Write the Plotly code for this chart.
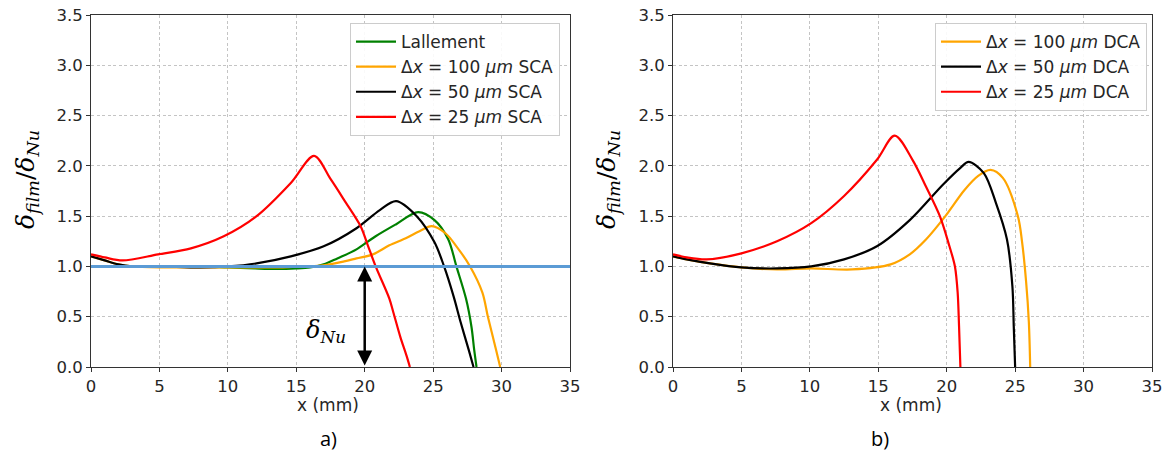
import plotly.graph_objects as go

# ---------------- data (panel a: SCA) ----------------
lallement_x = [0, 2, 4, 6, 8, 10, 12, 13.5, 15, 16, 17, 18, 19.4, 20.8, 22.3, 23.9, 25.1, 26.1, 26.7, 27.4, 27.8, 28.0, 28.17]
lallement_y = [1.00, 1.00, 1.00, 1.00, 1.00, 0.99, 0.98, 0.975, 0.98, 0.99, 1.02, 1.08, 1.17, 1.30, 1.42, 1.54, 1.46, 1.27, 1.00, 0.68, 0.40, 0.17, 0.0]

sca100_x = [0, 1, 2, 3, 5, 8, 10, 12, 14, 15.5, 17, 18.5, 19.4, 20.6, 21.8, 23.0, 24.0, 24.9, 25.9, 26.7, 27.7, 28.6, 29.0, 29.6, 29.9]
sca100_y = [1.10, 1.06, 1.02, 1.00, 0.99, 0.99, 0.99, 0.99, 0.99, 1.00, 1.01, 1.05, 1.08, 1.12, 1.21, 1.28, 1.35, 1.40, 1.33, 1.20, 1.00, 0.74, 0.50, 0.17, 0.0]

sca50_x = [0, 1, 2, 3, 5, 8, 10, 12.1, 14.6, 17.0, 19.4, 21.1, 22.3, 23.8, 25.1, 25.8, 26.5, 27.0, 27.6, 27.95]
sca50_y = [1.10, 1.06, 1.02, 1.00, 1.00, 0.99, 1.00, 1.03, 1.10, 1.20, 1.38, 1.56, 1.65, 1.50, 1.24, 1.00, 0.70, 0.45, 0.17, 0.0]

sca25_x = [0, 1, 2.3, 4.9, 7.3, 9.7, 12.1, 14.6, 16.3, 17.5, 18.5, 19.7, 20.2, 20.8, 21.8, 22.1, 22.6, 23.06, 23.3]
sca25_y = [1.12, 1.09, 1.06, 1.12, 1.18, 1.30, 1.50, 1.83, 2.10, 1.87, 1.66, 1.40, 1.22, 1.00, 0.68, 0.54, 0.30, 0.11, 0.0]

ref_x = [0, 35]
ref_y = [1.0, 1.0]

# ---------------- data (panel b: DCA) ----------------
dca100_x = [0, 1, 2.7, 5.0, 7.6, 10.1, 13.1, 15.9, 17.3, 18.5, 19.9, 21.3, 22.3, 23.2, 24.1, 25.2, 25.5, 25.8, 26.0, 26.1]
dca100_y = [1.10, 1.07, 1.03, 0.99, 0.97, 0.98, 0.97, 1.02, 1.12, 1.27, 1.50, 1.76, 1.90, 1.96, 1.88, 1.50, 1.25, 0.85, 0.45, 0.0]

dca50_x = [0, 1, 2.7, 5.0, 7.6, 10.1, 12.5, 14.9, 17.3, 19.7, 21.0, 21.6, 22.7, 23.6, 24.4, 24.8, 24.9, 25.0]
dca50_y = [1.10, 1.07, 1.03, 0.99, 0.98, 1.00, 1.07, 1.20, 1.46, 1.81, 1.98, 2.04, 1.93, 1.63, 1.27, 0.80, 0.40, 0.0]

dca25_x = [0, 1, 2.46, 5.0, 7.6, 10.1, 12.5, 14.9, 16.2, 17.5, 18.5, 19.5, 20.2, 20.6, 20.8, 20.9, 21.0]
dca25_y = [1.12, 1.09, 1.07, 1.13, 1.25, 1.43, 1.70, 2.06, 2.30, 2.06, 1.79, 1.50, 1.20, 1.00, 0.74, 0.41, 0.0]

x_ticks = [0, 5, 10, 15, 20, 25, 30, 35]
y_ticks = [0.0, 0.5, 1.0, 1.5, 2.0, 2.5, 3.0, 3.5]

arrow_x = 20
arrow_y0, arrow_y1 = 0.0, 1.0

GREEN, ORANGE, BLACK, RED, BLUE = "#008000", "#FFA500", "#000000", "#FF0000", "#5B9BD5"
LW = 2.2

fig = go.Figure()

def add(x, y, name, color, xa, ya, legend, show=True, width=LW):
    fig.add_trace(go.Scatter(x=x, y=y, name=name, mode="lines",
                             line=dict(color=color, width=width, shape="spline", smoothing=0.9),
                             xaxis=xa, yaxis=ya, legend=legend, showlegend=show))

# panel a
add(lallement_x, lallement_y, "Lallement", GREEN, "x", "y", "legend")
add(sca100_x, sca100_y, "Δ<i>x</i> = 100 <i>μm</i> SCA", ORANGE, "x", "y", "legend")
add(sca50_x, sca50_y, "Δ<i>x</i> = 50 <i>μm</i> SCA", BLACK, "x", "y", "legend")
add(sca25_x, sca25_y, "Δ<i>x</i> = 25 <i>μm</i> SCA", RED, "x", "y", "legend")
fig.add_trace(go.Scatter(x=ref_x, y=ref_y, mode="lines", line=dict(color=BLUE, width=3),
                         xaxis="x", yaxis="y", showlegend=False))

# panel b
add(dca100_x, dca100_y, "Δ<i>x</i> = 100 <i>μm</i> DCA", ORANGE, "x2", "y2", "legend2")
add(dca50_x, dca50_y, "Δ<i>x</i> = 50 <i>μm</i> DCA", BLACK, "x2", "y2", "legend2")
add(dca25_x, dca25_y, "Δ<i>x</i> = 25 <i>μm</i> DCA", RED, "x2", "y2", "legend2")

W, H = 1167, 457
tickfont = dict(family="DejaVu Sans", size=16.5, color="#262626")
GRID = "#c4c4c4"
GDASH = "3px,2.5px"

def xaxis(dom, anchor):
    return dict(domain=dom, anchor=anchor, range=[0, 35], tickvals=x_ticks, automargin=False,
                showgrid=True, gridcolor=GRID, griddash=GDASH, gridwidth=1,
                showline=True, linecolor="#333", linewidth=1, mirror=True,
                ticks="outside", ticklen=4, tickcolor="#333", tickfont=tickfont, zeroline=False)

def yaxis(anchor):
    return dict(domain=[90 / H, 442 / H], anchor=anchor, range=[0, 3.5], tickvals=y_ticks,
                tickformat=".1f", automargin=False,
                showgrid=True, gridcolor=GRID, griddash=GDASH, gridwidth=1,
                showline=True, linecolor="#333", linewidth=1, mirror=True,
                ticks="outside", ticklen=4, tickcolor="#333", tickfont=tickfont, zeroline=False)

legend_common = dict(bgcolor="rgba(255,255,255,0.9)", bordercolor="#cccccc", borderwidth=1,
                     font=dict(family="DejaVu Sans", size=17, color="#262626"),
                     xanchor="right", yanchor="top", tracegroupgap=0, itemwidth=40)

ytitle = "<i>δ</i><sub><i>film</i></sub>/<i>δ</i><sub><i>Nu</i></sub>"
ann_font = dict(family="DejaVu Serif", size=25, color="#000")
lab_font = dict(family="DejaVu Sans", size=17, color="#262626")

def pa(text, px, py, font, angle=0):
    return dict(text=text, x=px / W, y=1 - py / H, xref="paper", yref="paper", textangle=angle,
                showarrow=False, font=font, xanchor="center", yanchor="middle")

fig.update_layout(
    width=W, height=H, margin=dict(l=0, r=0, t=0, b=0, autoexpand=False),
    paper_bgcolor="white", plot_bgcolor="white",
    xaxis=xaxis([91 / W, 570 / W], "y"),
    yaxis=yaxis("x"),
    xaxis2=xaxis([673 / W, 1152 / W], "y2"),
    yaxis2=yaxis("x2"),
    legend=dict(x=560 / W, y=1 - 23 / H, **legend_common),
    legend2=dict(x=1147 / W, y=1 - 23 / H, **legend_common),
    annotations=[
        pa(ytitle, 27, 180, ann_font, -90),
        pa(ytitle, 608, 180, ann_font, -90),
        pa("x (mm)", 328, 405, lab_font),
        pa("x (mm)", 911, 405, lab_font),
        pa("a)", 328, 438, dict(family="Open Sans", size=20, color="#000")),
        pa("b)", 880, 438, dict(family="Open Sans", size=20, color="#000")),
        dict(x=arrow_x, y=arrow_y1, ax=arrow_x, ay=arrow_y0, xref="x", yref="y", axref="x", ayref="y",
             showarrow=True, arrowhead=2, arrowside="end+start", arrowwidth=2.5, arrowsize=1.2,
             arrowcolor="#000", text=""),
        dict(text="<i>δ</i><sub><i>Nu</i></sub>", x=17.2, y=0.35, xref="x", yref="y", showarrow=False,
             font=dict(family="DejaVu Serif", size=24, color="#000"), xanchor="center", yanchor="middle"),
    ],
)

fig.write_html("out.html", config={"displayModeBar": False},
               post_script="document.body.style.margin='0';document.body.style.overflow='hidden';")
